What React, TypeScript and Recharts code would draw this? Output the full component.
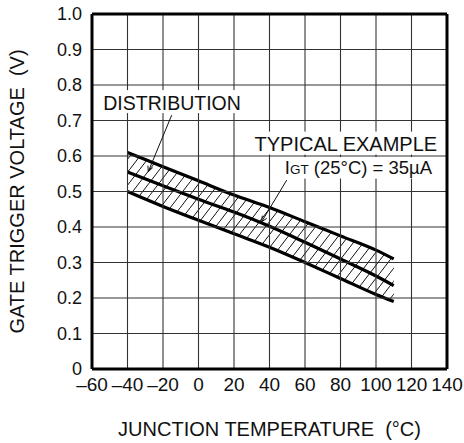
import {
  ComposedChart,
  Area,
  Line,
  XAxis,
  YAxis,
  ReferenceDot,
  ReferenceLine,
} from "recharts";

// ─── Data ─────────────────────────────────────────────────────────────────────
const temps = [-40, -20, 0, 20, 40, 60, 80, 100, 110];
const upperV = [0.61, 0.57, 0.53, 0.49, 0.455, 0.415, 0.375, 0.335, 0.31];
const typicalV = [0.555, 0.516, 0.478, 0.442, 0.402, 0.357, 0.31, 0.262, 0.235];
const lowerV = [0.5, 0.458, 0.419, 0.381, 0.343, 0.3, 0.255, 0.21, 0.19];

const xTicks = [-60, -40, -20, 0, 20, 40, 60, 80, 100, 120, 140];
const yTicks = [0, 0.1, 0.2, 0.3, 0.4, 0.5, 0.6, 0.7, 0.8, 0.9, 1.0];
const xDomain = [-60, 140];
const yDomain = [0, 1];

const data = temps.map((t, i) => ({
  t,
  upper: upperV[i],
  typical: typicalV[i],
  lower: lowerV[i],
}));

const FONT = '"Liberation Sans", Arial, Helvetica, sans-serif';

// ─── Labels ───────────────────────────────────────────────────────────────────
function YTitle({ viewBox }: any) {
  const cx = 17;
  const cy = viewBox.y + viewBox.height / 2;
  return (
    <text
      x={cx}
      y={cy}
      transform={`rotate(-90 ${cx} ${cy})`}
      textAnchor="middle"
      dominantBaseline="central"
      fontFamily={FONT}
      fontSize={20}
      fill="#111"
    >
      GATE TRIGGER VOLTAGE{"\u00a0\u00a0"}(V)
    </text>
  );
}

function XTitle({ viewBox }: any) {
  return (
    <text
      x={viewBox.x + viewBox.width / 2}
      y={viewBox.y + 67}
      textAnchor="middle"
      fontFamily={FONT}
      fontSize={20}
      fill="#111"
    >
      JUNCTION TEMPERATURE{"\u00a0\u00a0"}(°C)
    </text>
  );
}

// text centred on the dot, sitting on a white patch that hides the grid
function BoxLabel({ viewBox, box, size, children }: any) {
  const cx = viewBox.x + viewBox.width / 2;
  const cy = viewBox.y + viewBox.height / 2;
  const [l, t, r, b] = box;
  return (
    <g>
      <rect x={cx - l} y={cy - t} width={l + r} height={t + b} fill="#fff" />
      <text
        x={cx}
        y={cy + size * 0.358}
        textAnchor="middle"
        fontFamily={FONT}
        fontSize={size}
        fill="#111"
      >
        {children}
      </text>
    </g>
  );
}

// leader line ending in a small open arrow
function Leader({ x1, y1, x2, y2 }: any) {
  const a = Math.atan2(y2 - y1, x2 - x1);
  const L = 6;
  const w = 0.45;
  const p1 = `${x2 - L * Math.cos(a - w)},${y2 - L * Math.sin(a - w)}`;
  const p2 = `${x2 - L * Math.cos(a + w)},${y2 - L * Math.sin(a + w)}`;
  return (
    <g stroke="#111" strokeWidth={1} fill="none">
      <line x1={x1} y1={y1} x2={x2} y2={y2} />
      <path d={`M${p1} L${x2},${y2} L${p2}`} />
    </g>
  );
}

// plain grid line, drawn by hand at the reference line's ends
function GridLine({ x1, y1, x2, y2 }: any) {
  return (
    <g stroke="#333" strokeWidth={1.1} fill="none">
      <line x1={x1} y1={y1} x2={x2} y2={y2} />
    </g>
  );
}

const fmtX = (v: number) => (v < 0 ? `\u2013${Math.abs(v)}` : `${v}`);
const fmtY = (v: number) => (v === 0 ? "0" : v.toFixed(1));

// ─── Component ────────────────────────────────────────────────────────────────
export default function App() {
  return (
    <div style={{ position: "absolute", left: 0, top: 0, background: "#fff" }}>
      <ComposedChart
        width={464}
        height={443}
        data={data}
        margin={{ top: 14, right: 17, left: 0, bottom: 0 }}
      >
        <defs>
          <pattern
            id="hatch"
            patternUnits="userSpaceOnUse"
            width={10}
            height={13}
          >
            <path d="M-2,15.6 L12,-2.6" stroke="#111" strokeWidth={1} />
          </pattern>
        </defs>

        <XAxis
          dataKey="t"
          type="number"
          domain={xDomain}
          ticks={xTicks}
          tickFormatter={fmtX}
          axisLine={{ stroke: "#000", strokeWidth: 3 }}
          tickLine={false}
          tickSize={0}
          tickMargin={9}
          height={74}
          interval={0}
          tick={{ fill: "#111", fontSize: 19, fontFamily: FONT }}
          label={<XTitle />}
        />
        <YAxis
          type="number"
          domain={yDomain}
          ticks={yTicks}
          tickFormatter={fmtY}
          axisLine={{ stroke: "#000", strokeWidth: 3 }}
          tickLine={false}
          tickSize={0}
          tickMargin={10}
          width={92}
          interval={0}
          tick={{ fill: "#111", fontSize: 18, fontFamily: FONT }}
          label={<YTitle />}
        />

        <Area
          type="monotone"
          dataKey={(d: any) => [d.lower, d.upper]}
          fill="url(#hatch)"
          fillOpacity={1}
          stroke="none"
          isAnimationActive={false}
        />
        <Line
          type="monotone"
          dataKey="upper"
          stroke="#000"
          strokeWidth={3.2}
          dot={false}
          isAnimationActive={false}
        />
        <Line
          type="monotone"
          dataKey="typical"
          stroke="#000"
          strokeWidth={3.2}
          dot={false}
          isAnimationActive={false}
        />
        <Line
          type="monotone"
          dataKey="lower"
          stroke="#000"
          strokeWidth={3.2}
          dot={false}
          isAnimationActive={false}
        />

        {/* grid on every tick */}
        {xTicks.map((t) => (
          <ReferenceLine key={`gx${t}`} x={t} shape={<GridLine />} />
        ))}
        {yTicks.map((t) => (
          <ReferenceLine key={`gy${t}`} y={t} shape={<GridLine />} />
        ))}

        {/* leader lines */}
        <ReferenceLine
          segment={[
            { x: -15.1, y: 0.715 },
            { x: -28.3, y: 0.556 },
          ]}
          shape={<Leader />}
        />
        <ReferenceLine
          segment={[
            { x: 49.7, y: 0.532 },
            { x: 35.6, y: 0.415 },
          ]}
          shape={<Leader />}
        />

        {/* annotations */}
        <ReferenceDot
          x={-14.9}
          y={0.749}
          r={0}
          fill="none"
          stroke="none"
          label={
            <BoxLabel box={[72.5, 13, 72.5, 10]} size={19.5}>
              DISTRIBUTION
            </BoxLabel>
          }
        />
        <ReferenceDot
          x={83.0}
          y={0.633}
          r={0}
          fill="none"
          stroke="none"
          label={
            <BoxLabel box={[95, 12.7, 95, 10.3]} size={20}>
              TYPICAL EXAMPLE
            </BoxLabel>
          }
        />
        <ReferenceDot
          x={90.1}
          y={0.568}
          r={0}
          fill="none"
          stroke="none"
          label={
            <BoxLabel box={[82.4, 10.3, 82.4, 11.2]} size={18.5}>
              <tspan>I</tspan>
              <tspan fontSize={13.5}>GT</tspan>
              <tspan> (25°C) = 35µA</tspan>
            </BoxLabel>
          }
        />

        {/* heavy top and right edges of the frame */}
        <ReferenceLine y={1} stroke="#000" strokeWidth={3} />
        <ReferenceLine x={140} stroke="#000" strokeWidth={3} />
      </ComposedChart>
    </div>
  );
}
